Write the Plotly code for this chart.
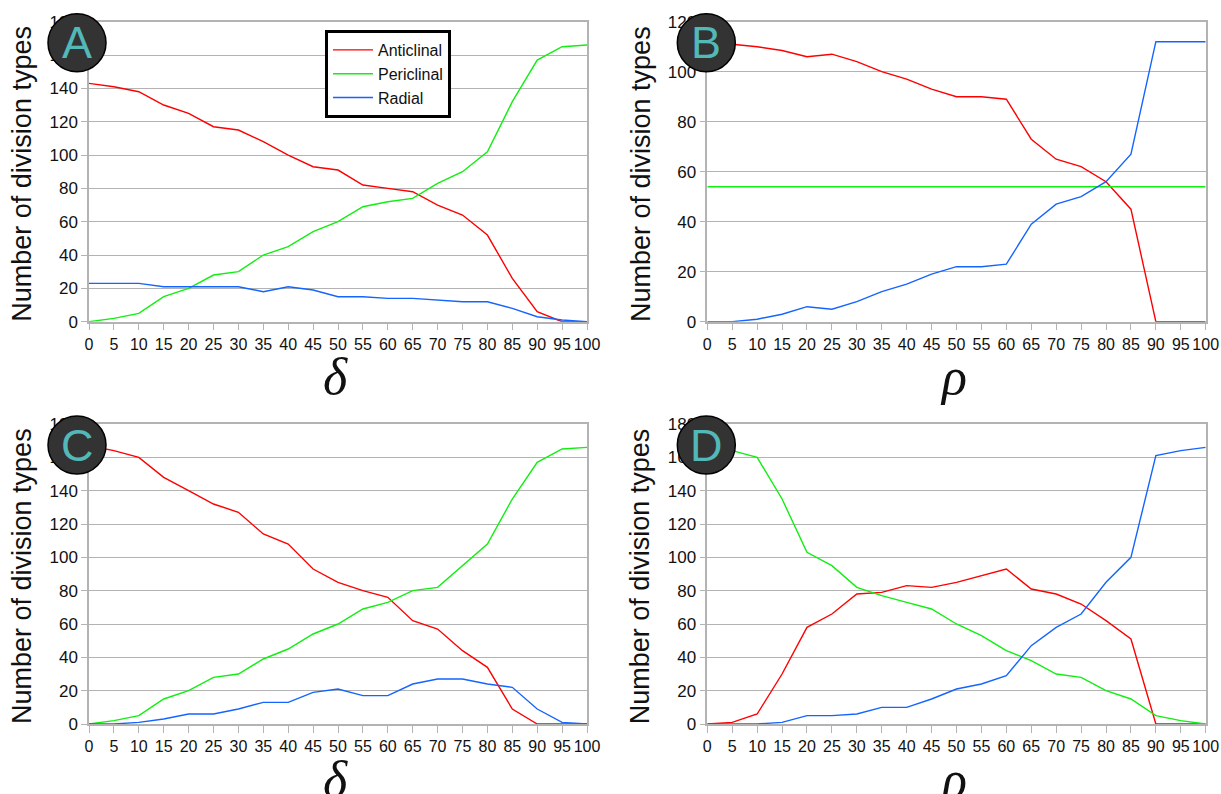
import plotly.graph_objects as go

# ---------------- data ----------------
x_vals = list(range(0, 101, 5))
x_ticklabels = [str(v) for v in x_vals]
series_names = ["Anticlinal", "Periclinal", "Radial"]
series_colors = ["#ff0000", "#11ee11", "#1464ff"]

# Panel A (delta)
a_anticlinal = [143, 141, 138, 130, 125, 117, 115, 108, 100, 93, 91, 82, 80, 78, 70, 64, 52, 26, 6, 0, 0]
a_periclinal = [0, 2, 5, 15, 20, 28, 30, 40, 45, 54, 60, 69, 72, 74, 83, 90, 102, 132, 157, 165, 166]
a_radial = [23, 23, 23, 21, 21, 21, 21, 18, 21, 19, 15, 15, 14, 14, 13, 12, 12, 8, 3, 1, 0]

# Panel B (rho)
b_anticlinal = [112, 111, 110, 108.5, 106, 107, 104, 100, 97, 93, 90, 90, 89, 73, 65, 62, 56, 45, 0, 0, 0]
b_periclinal = [54] * 21
b_radial = [0, 0, 1, 3, 6, 5, 8, 12, 15, 19, 22, 22, 23, 39, 47, 50, 56, 67, 112, 112, 112]

# Panel C (delta)
c_anticlinal = [167, 164, 160, 148, 140, 132, 127, 114, 108, 93, 85, 80, 76, 62, 57, 44, 34, 9, 0, 0, 0]
c_periclinal = [0, 2, 5, 15, 20, 28, 30, 39, 45, 54, 60, 69, 73, 80, 82, 95, 108, 135, 157, 165, 166]
c_radial = [0, 0, 1, 3, 6, 6, 9, 13, 13, 19, 21, 17, 17, 24, 27, 27, 24, 22, 9, 1, 0]

# Panel D (rho)
d_anticlinal = [0, 1, 6, 30, 58, 66, 78, 79, 83, 82, 85, 89, 93, 81, 78, 72, 62, 51, 0, 0, 0]
d_periclinal = [167, 164, 160, 135, 103, 95, 82, 77, 73, 69, 60, 53, 44, 38, 30, 28, 20, 15, 5, 2, 0]
d_radial = [0, 0, 0, 1, 5, 5, 6, 10, 10, 15, 21, 24, 29, 47, 58, 66, 85, 100, 161, 164, 166]

panels = [
    dict(letter="A", xlabel="δ", ymax=180, data=[a_anticlinal, a_periclinal, a_radial]),
    dict(letter="B", xlabel="ρ", ymax=120, data=[b_anticlinal, b_periclinal, b_radial]),
    dict(letter="C", xlabel="δ", ymax=180, data=[c_anticlinal, c_periclinal, c_radial]),
    dict(letter="D", xlabel="ρ", ymax=180, data=[d_anticlinal, d_periclinal, d_radial]),
]

# ---------------- layout geometry (pixels) ----------------
W, H = 1221, 794
def px(x):
    return x / W
def py(y):
    return 1 - y / H

plot_boxes = [  # left, right, top, bottom in px
    (89, 587, 21.7, 321.7),
    (707.3, 1205.7, 21.7, 321.7),
    (89, 587, 424, 724),
    (707.3, 1205.7, 424, 724),
]

GRID = "#b3b3b3"
FONT = "Liberation Sans, Arial, sans-serif"

fig = go.Figure()
layout = dict(
    width=W, height=H,
    margin=dict(l=0, r=0, t=0, b=0, autoexpand=False),
    paper_bgcolor="white", plot_bgcolor="white",
    font=dict(family=FONT, size=16, color="#111111"),
    showlegend=True,
    legend=dict(
        x=px(325), y=py(30), xanchor="left", yanchor="top",
        bgcolor="white", bordercolor="black", borderwidth=3,
        font=dict(family=FONT, size=16, color="#111111"),
        tracegroupgap=0, itemwidth=40,
    ),
)
shapes = []
annotations = []

for i, (p, box) in enumerate(zip(panels, plot_boxes)):
    n = i + 1
    xa = "xaxis" if n == 1 else f"xaxis{n}"
    ya = "yaxis" if n == 1 else f"yaxis{n}"
    xref = "x" if n == 1 else f"x{n}"
    yref = "y" if n == 1 else f"y{n}"
    l, r, t, b = box
    layout[xa] = dict(
        domain=[px(l), px(r)], anchor=yref, range=[0, 100],
        tickmode="array", tickvals=x_vals, ticktext=x_ticklabels,
        ticks="outside", ticklen=7, tickcolor=GRID, tickwidth=1.3,
        showline=True, linecolor=GRID, linewidth=1.5, mirror=True,
        showgrid=False, zeroline=False, automargin=False,
        tickfont=dict(family=FONT, size=16, color="#111111"),
        fixedrange=True,
    )
    layout[ya] = dict(
        domain=[py(b), py(t)], anchor=xref, range=[0, p["ymax"]],
        tickmode="linear", tick0=0, dtick=20,
        ticks="outside", ticklen=6, tickcolor=GRID, tickwidth=1.3,
        showline=True, linecolor=GRID, linewidth=1.5, mirror=True,
        showgrid=True, gridcolor=GRID, gridwidth=1.3, zeroline=False,
        automargin=False,
        tickfont=dict(family=FONT, size=17, color="#111111"),
        fixedrange=True,
    )
    for name, color, vals in zip(series_names, series_colors, p["data"]):
        fig.add_trace(go.Scatter(
            x=x_vals, y=vals, mode="lines", name=name,
            line=dict(color=color, width=1.4),
            xaxis=xref, yaxis=yref, showlegend=(n == 1),
        ))
    # y-axis title
    annotations.append(dict(
        text="Number of division types", textangle=-90,
        x=px(l - 67), y=py((t + b) / 2 + 2), xref="paper", yref="paper",
        xanchor="center", yanchor="middle", showarrow=False,
        font=dict(family=FONT, size=27, color="#111111"),
    ))
    # x-axis title (greek symbol)
    annotations.append(dict(
        text=p["xlabel"],
        x=px((l + r) / 2 - 3), y=py(b + 55), xref="paper", yref="paper",
        xanchor="center", yanchor="middle", showarrow=False,
        font=dict(family="Liberation Serif, Times New Roman, serif", size=52, color="#111111",
                  style="italic"),
    ))
    # panel badge
    cx, cy, rad = l - 12 if n in (1, 3) else l - 1, t + 21, 29
    shapes.append(dict(
        type="circle", xref="paper", yref="paper", layer="above",
        x0=px(cx - rad), x1=px(cx + rad), y0=py(cy + rad), y1=py(cy - rad),
        fillcolor="#333333", line=dict(color="black", width=1.5),
    ))
    annotations.append(dict(
        text=p["letter"], x=px(cx), y=py(cy), xref="paper", yref="paper",
        xanchor="center", yanchor="middle", showarrow=False,
        font=dict(family=FONT, size=45, color="#52b8b8"),
    ))

layout["shapes"] = shapes
layout["annotations"] = annotations
fig.update_layout(**layout)
fig.write_html(
    "out.html",
    config={"displayModeBar": False},
    post_script="document.body.style.margin='0';document.body.style.padding='0';",
)
